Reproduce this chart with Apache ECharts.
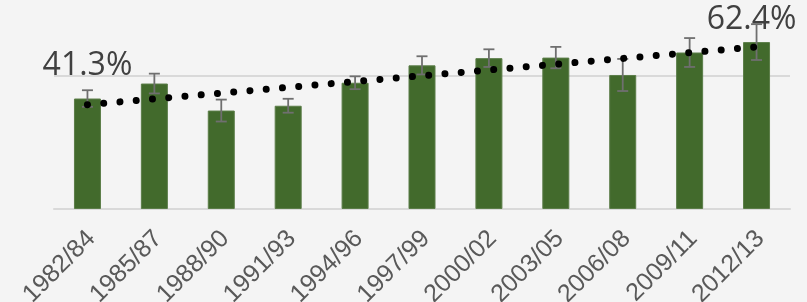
<!DOCTYPE html>
<html><head><meta charset="utf-8">
<script src="https://cdn.jsdelivr.net/npm/echarts@6/dist/echarts.min.js"></script>
<style>html,body{margin:0;padding:0;background:#f4f4f4}#c{width:807px;height:302px}</style>
</head><body><div id="c"></div>
<script>
const categories = ['1982/84','1985/87','1988/90','1991/93','1994/96','1997/99','2000/02','2003/05','2006/08','2009/11','2012/13'];
const values = [41.3, 46.9, 36.8, 38.6, 47.2, 53.7, 56.4, 56.6, 50.1, 58.5, 62.4];
const errors = [3.1, 3.7, 4.1, 2.6, 2.4, 3.4, 3.3, 4.0, 6.0, 5.4, 6.7];
const trendStartEnd = [39.0, 60.6];
const yTicks = [0, 50, 100];

const labelStyles = {
  0: { distance: 17, offset: [0, 0] },
  10: { distance: 6, offset: [-5, 0] }
};

const barData = values.map((v, i) => {
  const item = { value: v };
  if (labelStyles[i]) {
    item.label = {
      show: true, position: 'top', distance: labelStyles[i].distance, offset: labelStyles[i].offset,
      formatter: '{c}%', fontSize: 32, fontFamily: 'Open Sans', color: '#404040'
    };
  }
  return item;
});

const errData = values.map((v, i) => [i, v - errors[i], v + errors[i]]);
const trendData = [[0, trendStartEnd[0]], [categories.length - 1, trendStartEnd[1]]];

const chart = echarts.init(document.getElementById('c'), null, { renderer: 'canvas' });
chart.setOption({
  backgroundColor: '#f4f4f4',
  animation: false,
  grid: { left: 54, right: 17, top: -58.5, bottom: 93, containLabel: false, outerBoundsMode: 'none' },
  xAxis: {
    type: 'category', data: categories,
    axisTick: { show: false },
    axisLine: { lineStyle: { color: '#d9d9d9', width: 2 } },
    axisLabel: {
      interval: 0, rotate: 45, fontSize: 25, lineHeight: 25, fontFamily: 'Liberation Sans', color: '#595959',
      margin: 12, align: 'right', verticalAlign: 'top', padding: [0, 7, 0, 0]
    }
  },
  yAxis: {
    type: 'value', min: yTicks[0], max: yTicks[yTicks.length - 1], interval: yTicks[1] - yTicks[0],
    axisLabel: { show: false }, axisLine: { show: false }, axisTick: { show: false },
    splitLine: { lineStyle: { color: '#d9d9d9', width: 2 } }
  },
  series: [
    {
      type: 'bar', data: barData, barWidth: 27,
      itemStyle: { color: '#426a2c', borderColor: '#5b7d48', borderWidth: 1 },
      z: 2
    },
    {
      type: 'custom', data: errData, z: 3,
      encode: { x: 0, y: [1, 2] },
      renderItem: function (params, api) {
        const x = api.value(0);
        const pHi = api.coord([x, api.value(2)]);
        const pLo = api.coord([x, api.value(1)]);
        const hw = 5.5;
        const st = { stroke: '#6f6f6f', lineWidth: 1.8 };
        return {
          type: 'group', children: [
            { type: 'line', shape: { x1: pHi[0], y1: pHi[1], x2: pLo[0], y2: pLo[1] }, style: st },
            { type: 'line', shape: { x1: pHi[0] - hw, y1: pHi[1], x2: pHi[0] + hw, y2: pHi[1] }, style: st },
            { type: 'line', shape: { x1: pLo[0] - hw, y1: pLo[1], x2: pLo[0] + hw, y2: pLo[1] }, style: st }
          ]
        };
      }
    },
    {
      type: 'line', data: trendData, symbol: 'none', z: 4,
      lineStyle: { color: '#000000', width: 7, type: [0.01, 16.3], cap: 'round' }
    }
  ]
});
</script></body></html>
